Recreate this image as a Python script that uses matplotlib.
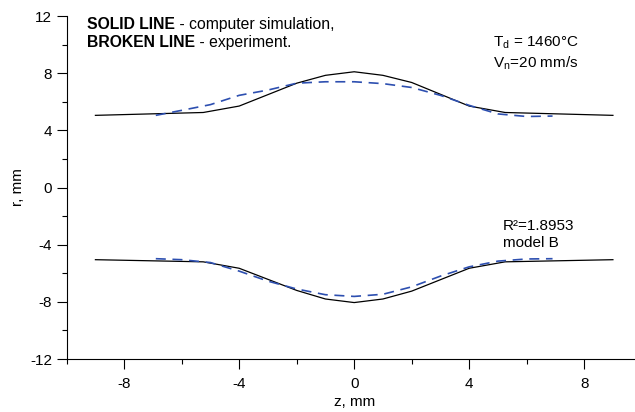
import matplotlib
matplotlib.use("Agg")
import matplotlib.pyplot as plt
from matplotlib.ticker import MultipleLocator

plt.rcParams['font.family'] = ['Liberation Sans', 'DejaVu Sans']
plt.rcParams['mathtext.fontset'] = 'custom'
plt.rcParams['mathtext.rm'] = 'Liberation Sans'

# computer simulation (solid)
z_sim = [-9, -5.25, -4, -2, -1, 0, 1, 2, 4, 5.25, 9]
r_sim_top = [5.05, 5.25, 5.7, 7.3, 7.85, 8.1, 7.85, 7.35, 5.7, 5.25, 5.05]
r_sim_bot = [-5.05, -5.2, -5.65, -7.2, -7.8, -8.05, -7.8, -7.25, -5.65, -5.2, -5.05]

# experiment (broken)
z_exp = [-6.9, -6, -5, -4, -3, -2, -1, 0, 1, 2, 3, 4, 5, 6, 6.9]
r_exp_top = [5.05, 5.4, 5.8, 6.45, 6.82, 7.3, 7.4, 7.4, 7.27, 7.0, 6.45, 5.75, 5.15, 4.97, 5.0]
r_exp_bot = [-4.98, -5.05, -5.25, -5.85, -6.55, -7.1, -7.5, -7.62, -7.47, -6.95, -6.2, -5.55, -5.15, -5.0, -4.98]

fig = plt.figure(figsize=(6.35, 4.12), dpi=100)
ax = fig.add_axes([0.105, 0.1286, 0.9055, 0.8325])

ax.plot(z_sim, r_sim_top, color='black', lw=0.9)
ax.plot(z_sim, r_sim_bot, color='black', lw=0.9)
ax.plot(z_exp, r_exp_top, color='#2d4fb0', lw=1.2, dashes=(6, 4))
ax.plot(z_exp, r_exp_bot, color='#2d4fb0', lw=1.2, dashes=(6, 4))

ax.set_xlim(-10, 10)
ax.set_ylim(-12, 12)
ax.xaxis.set_major_locator(MultipleLocator(4))
ax.xaxis.set_minor_locator(MultipleLocator(2))
ax.yaxis.set_major_locator(MultipleLocator(4))
ax.yaxis.set_minor_locator(MultipleLocator(2))
ax.tick_params(which='major', length=7, width=0.8, labelsize=11)
ax.tick_params(axis='x', which='major', pad=6)
ax.tick_params(which='minor', length=3.5, width=0.8)
ax.spines['top'].set_visible(False)
ax.spines['right'].set_visible(False)
ax.set_xticks([-8, -4, 0, 4, 8])
ax.set_xticklabels(['-8', '-4', '0', '4', '8'])
ax.set_yticks([-12, -8, -4, 0, 4, 8, 12])
ax.set_yticklabels(['-12', '-8', '-4', '0', '4', '8', '12'])

ax.set_xlabel('z, mm', fontsize=11, labelpad=3)
ax.set_ylabel('r, mm', fontsize=11, labelpad=4)

# header text: bold part followed by regular part
renderer = fig.canvas.get_renderer()
t1 = fig.text(0.137, 0.94, 'SOLID LINE', fontsize=11.3, fontweight='bold', va='center')
t2 = fig.text(0.137, 0.896, 'BROKEN LINE', fontsize=11.3, fontweight='bold', va='center')
for t, rest in [(t1, ' - computer simulation,'), (t2, ' - experiment.')]:
    bb = t.get_window_extent(renderer)
    x = bb.x1 / fig.bbox.width
    fig.text(x, t.get_position()[1], rest, fontsize=11.3, va='center')

fig.text(0.776, 0.896, 'T$_\\mathregular{d}$ = 1460°C', fontsize=11, va='center')
fig.text(0.776, 0.847, 'V$_\\mathregular{n}$=20 mm/s', fontsize=11, va='center')
fig.text(0.792, 0.451, 'R²=1.8953', fontsize=11, va='center')
fig.text(0.792, 0.41, 'model B', fontsize=11, va='center')

fig.savefig('out.png', dpi=100)
